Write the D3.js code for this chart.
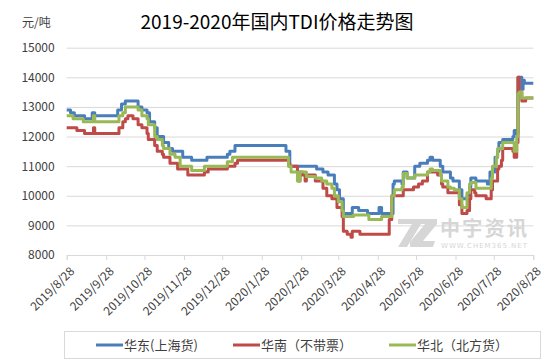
<!DOCTYPE html>
<html>
<head>
<meta charset="utf-8">
<title>2019-2020年国内TDI价格走势图</title>
<script src="https://cdnjs.cloudflare.com/ajax/libs/d3/7.8.5/d3.min.js"></script>
<style>
  body { margin: 0; background: #fff; }
  svg { font-family: "Noto Sans CJK SC", "Noto Sans", sans-serif; }
</style>
</head>
<body>
<svg id="chart" width="554" height="364"></svg>
<script>
// series names, in legend order
const seriesNames = ['华东(上海货)', '华南（不带票）', '华北（北方货）'];
const seriesColors = ['#4a7ebb', '#be4b48', '#98b954'];

// price change points [date, yuan/ton], each value holds until the next date
const east = [
  ['2019-08-28', 12900], ['2019-08-31', 12800], ['2019-09-03', 12700], ['2019-09-11', 12600],
  ['2019-09-17', 12800], ['2019-09-19', 12700], ['2019-10-07', 12900], ['2019-10-10', 13100],
  ['2019-10-13', 13200], ['2019-10-23', 13000], ['2019-10-26', 12900], ['2019-10-30', 12800],
  ['2019-11-01', 12500], ['2019-11-05', 12300], ['2019-11-07', 12000], ['2019-11-12', 11800],
  ['2019-11-16', 11600], ['2019-11-19', 11500], ['2019-11-27', 11300], ['2019-12-04', 11200],
  ['2019-12-16', 11300], ['2020-01-01', 11400], ['2020-01-03', 11500], ['2020-01-07', 11700],
  ['2020-02-16', 11500], ['2020-02-19', 11000], ['2020-03-11', 10900], ['2020-03-16', 10800],
  ['2020-03-20', 10700], ['2020-03-25', 10400], ['2020-03-27', 10200], ['2020-03-29', 9900],
  ['2020-04-01', 9400], ['2020-04-08', 9600], ['2020-04-13', 9500], ['2020-04-20', 9400],
  ['2020-04-29', 9600], ['2020-05-01', 9400], ['2020-05-10', 10400], ['2020-05-11', 10500],
  ['2020-05-17', 10400], ['2020-05-18', 10800], ['2020-05-21', 10600], ['2020-05-27', 11000],
  ['2020-05-31', 11100], ['2020-06-06', 11200], ['2020-06-08', 11300], ['2020-06-10', 11200],
  ['2020-06-16', 11000], ['2020-06-18', 10800], ['2020-06-24', 10600], ['2020-06-26', 10500],
  ['2020-07-01', 10200], ['2020-07-03', 9900], ['2020-07-07', 10000], ['2020-07-09', 10300],
  ['2020-07-10', 10600], ['2020-07-14', 10500], ['2020-07-23', 10400], ['2020-07-25', 10800],
  ['2020-07-29', 11300], ['2020-07-31', 11500], ['2020-08-01', 11800], ['2020-08-04', 11900],
  ['2020-08-12', 12000], ['2020-08-13', 12200], ['2020-08-15', 12100], ['2020-08-16', 14000],
  ['2020-08-19', 13600], ['2020-08-20', 13900], ['2020-08-21', 13800], ['2020-08-28', 13800]
];
const south = [
  ['2019-08-28', 12300], ['2019-09-05', 12200], ['2019-09-11', 12100], ['2019-09-18', 12300],
  ['2019-09-19', 12100], ['2019-10-08', 12300], ['2019-10-11', 12500], ['2019-10-13', 12600],
  ['2019-10-15', 12700], ['2019-10-19', 12600], ['2019-10-23', 12400], ['2019-10-26', 12300],
  ['2019-10-30', 12100], ['2019-10-31', 11900], ['2019-11-05', 11700], ['2019-11-07', 11500],
  ['2019-11-11', 11400], ['2019-11-12', 11300], ['2019-11-17', 11100], ['2019-11-23', 10900],
  ['2019-12-01', 10700], ['2019-12-14', 10800], ['2019-12-17', 10900], ['2020-01-01', 11000],
  ['2020-01-07', 11100], ['2020-01-09', 11200], ['2020-02-18', 11100], ['2020-02-19', 11000],
  ['2020-02-25', 10800], ['2020-02-26', 10500], ['2020-02-27', 10800], ['2020-02-29', 10700],
  ['2020-03-02', 10500], ['2020-03-03', 10700], ['2020-03-10', 10500], ['2020-03-16', 10250],
  ['2020-03-19', 10000], ['2020-03-23', 9900], ['2020-03-27', 9600], ['2020-03-31', 9300],
  ['2020-04-01', 8800], ['2020-04-04', 8700], ['2020-04-07', 8600], ['2020-04-08', 8800],
  ['2020-04-14', 8700], ['2020-05-07', 9200], ['2020-05-09', 10000], ['2020-05-18', 10200],
  ['2020-05-26', 10300], ['2020-05-30', 10400], ['2020-06-02', 10500], ['2020-06-06', 10800],
  ['2020-06-14', 10700], ['2020-06-17', 10400], ['2020-06-18', 10300], ['2020-06-22', 10100],
  ['2020-07-01', 9700], ['2020-07-03', 9400], ['2020-07-07', 9500], ['2020-07-09', 9900],
  ['2020-07-10', 10200], ['2020-07-13', 10100], ['2020-07-14', 10000], ['2020-07-22', 9900],
  ['2020-07-26', 10200], ['2020-07-27', 10500], ['2020-07-31', 10900], ['2020-08-01', 11000],
  ['2020-08-03', 11200], ['2020-08-04', 11600], ['2020-08-12', 11500], ['2020-08-13', 11300],
  ['2020-08-15', 11800], ['2020-08-16', 14000], ['2020-08-17', 13500], ['2020-08-19', 13200],
  ['2020-08-22', 13300], ['2020-08-28', 13300]
];
const north = [
  ['2019-08-28', 12700], ['2019-09-02', 12600], ['2019-09-10', 12500], ['2019-09-18', 12700],
  ['2019-09-19', 12500], ['2019-10-08', 12700], ['2019-10-11', 12800], ['2019-10-13', 13000],
  ['2019-10-23', 12900], ['2019-10-26', 12700], ['2019-10-30', 12600], ['2019-10-31', 12400],
  ['2019-11-05', 12000], ['2019-11-07', 11900], ['2019-11-11', 11700], ['2019-11-12', 11600],
  ['2019-11-17', 11400], ['2019-11-21', 11300], ['2019-11-25', 11000], ['2019-12-04', 10850],
  ['2019-12-14', 11000], ['2020-01-01', 11150], ['2020-01-05', 11300], ['2020-02-18', 11000],
  ['2020-02-20', 10800], ['2020-02-25', 10500], ['2020-02-27', 10800], ['2020-03-03', 10650],
  ['2020-03-10', 10600], ['2020-03-15', 10500], ['2020-03-19', 10400], ['2020-03-23', 10250],
  ['2020-03-25', 10000], ['2020-03-28', 9800], ['2020-03-31', 9500], ['2020-04-01', 9300],
  ['2020-04-09', 9350], ['2020-04-21', 9200], ['2020-05-01', 9300], ['2020-05-09', 10000],
  ['2020-05-11', 10200], ['2020-05-17', 10300], ['2020-05-18', 10750], ['2020-05-21', 10600],
  ['2020-05-27', 10700], ['2020-06-06', 10800], ['2020-06-08', 10900], ['2020-06-10', 10850],
  ['2020-06-16', 10700], ['2020-06-17', 10500], ['2020-06-22', 10300], ['2020-06-24', 10250],
  ['2020-06-27', 10200], ['2020-07-01', 9900], ['2020-07-03', 9600], ['2020-07-07', 10100],
  ['2020-07-09', 10400], ['2020-07-10', 10450], ['2020-07-14', 10250], ['2020-07-26', 10600],
  ['2020-07-27', 11000], ['2020-07-30', 11300], ['2020-07-31', 11600], ['2020-08-04', 11800],
  ['2020-08-13', 11500], ['2020-08-15', 12000], ['2020-08-16', 13450], ['2020-08-17', 13500],
  ['2020-08-19', 13300], ['2020-08-28', 13300]
];

const xTickDates = ['2019-08-28', '2019-09-28', '2019-10-28', '2019-11-28', '2019-12-28',
  '2020-01-28', '2020-02-28', '2020-03-28', '2020-04-28', '2020-05-28', '2020-06-28',
  '2020-07-28', '2020-08-28'];
const yTicks = [8000, 9000, 10000, 11000, 12000, 13000, 14000, 15000];

const parse = d3.timeParse('%Y-%m-%d');
const svg = d3.select('#chart');

const x = d3.scaleTime()
  .domain([parse('2019-08-28'), parse('2020-08-28')])
  .range([66.7, 533.3]);
const y = d3.scaleLinear().domain([8000, 15000]).range([255, 47.7]);

// title and unit
svg.append('text').attr('x', 277).attr('y', 29).attr('text-anchor', 'middle')
  .attr('font-size', 19).attr('fill', '#000').text('2019-2020年国内TDI价格走势图');
svg.append('text').attr('x', 22).attr('y', 27).attr('font-size', 12)
  .attr('fill', '#404040').text('元/吨');

// gridlines + y labels
const yAxisG = svg.append('g').attr('transform', 'translate(66.7,0)')
  .call(d3.axisLeft(y).tickValues(yTicks).tickSize(-466.6).tickFormat(d3.format('d')));
yAxisG.select('.domain').remove();
yAxisG.selectAll('line').attr('stroke', '#d9d9d9');
yAxisG.selectAll('text').attr('x', -12).attr('fill', '#404040')
  .attr('font-size', 12).attr('font-family', '"Noto Sans CJK SC", sans-serif');

// watermark
const wm = svg.append('g').attr('fill', '#d6d6d6');
wm.append('path').attr('d', 'M398,219 L421,219 L421,224 L407,247 L398,247 L412,224 L398,224 Z');
wm.append('path').attr('d', 'M416,219 L437,219 L437,224 L423,241 L435,241 L433,247 L410,247 L410,242 L425,224 L416,224 Z');
wm.append('text').attr('x', 440).attr('y', 236).attr('font-size', 20).attr('font-weight', 'bold')
  .attr('textLength', 87).text('中宇资讯');
wm.append('text').attr('x', 441).attr('y', 248).attr('font-size', 7)
  .attr('font-family', '"DejaVu Sans", sans-serif').attr('textLength', 86).text('WWW.CHEM365.NET');

// x axis
const xAxisG = svg.append('g').attr('transform', 'translate(0,255)')
  .call(d3.axisBottom(x).tickValues(xTickDates.map(parse)).tickSize(5)
    .tickFormat(d3.timeFormat('%Y/%-m/%-d')));
xAxisG.select('.domain').attr('stroke', '#d9d9d9');
xAxisG.selectAll('line').attr('stroke', '#d9d9d9');
xAxisG.selectAll('text')
  .attr('font-size', 12).attr('fill', '#404040')
  .attr('font-family', '"Noto Sans CJK SC", sans-serif')
  .attr('text-anchor', 'end').attr('y', 0).attr('dy', '0.35em')
  .attr('transform', 'translate(5,14) rotate(-45)');

// lines
const line = d3.line()
  .x(d => x(parse(d[0])))
  .y(d => y(d[1]))
  .curve(d3.curveStepAfter);

[east, south, north].forEach((s, i) => {
  svg.append('path').datum(s)
    .attr('fill', 'none')
    .attr('stroke', seriesColors[i])
    .attr('stroke-width', 3)
    .attr('stroke-linejoin', 'round')
    .attr('d', line);
});

// legend
svg.append('rect').attr('x', 64.5).attr('y', 331.5).attr('width', 476).attr('height', 27)
  .attr('fill', 'none').attr('stroke', '#d9d9d9');
const legendX = [96, 233, 389];
seriesNames.forEach((name, i) => {
  const g = svg.append('g').attr('transform', `translate(${legendX[i]},345)`);
  g.append('line').attr('x1', 0).attr('x2', 27).attr('stroke', seriesColors[i]).attr('stroke-width', 3);
  g.append('text').attr('x', 28).attr('dy', '0.36em').attr('font-size', 13)
    .attr('fill', '#404040').text(name);
});
</script>
</body>
</html>
